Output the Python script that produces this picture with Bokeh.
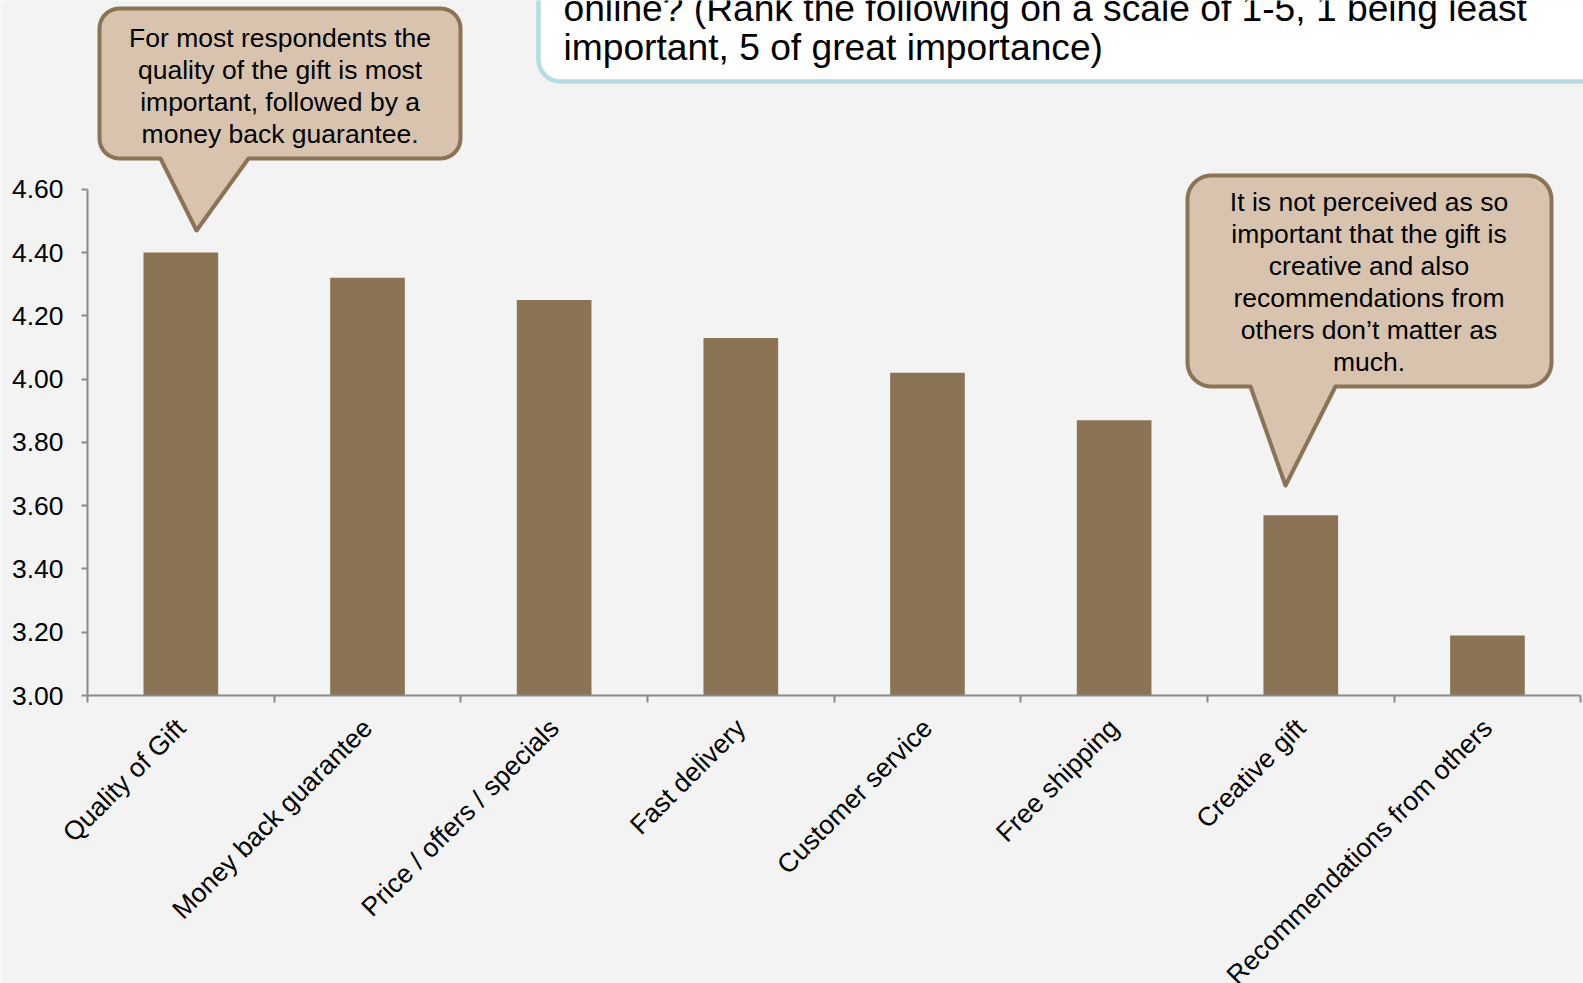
import math
import numpy as np
from bokeh.plotting import figure
from bokeh.models import FixedTicker, NumeralTickFormatter, Range1d, ColumnDataSource
from bokeh.core.properties import value
from bokeh.embed import file_html
from bokeh.resources import INLINE

# ---------------- data ----------------
categories = [
    "Quality of Gift",
    "Money back guarantee",
    "Price / offers / specials",
    "Fast delivery",
    "Customer service",
    "Free shipping",
    "Creative gift",
    "Recommendations from others",
]
scores = [4.40, 4.32, 4.25, 4.13, 4.02, 3.87, 3.57, 3.19]
y_ticks = [3.0, 3.2, 3.4, 3.6, 3.8, 4.0, 4.2, 4.4, 4.6]
title_lines = [
    "online? (Rank the following on a scale of 1-5, 1 being least",
    "important, 5 of great importance)",
]
note_left = [
    "For most respondents the",
    "quality of the gift is most",
    "important, followed by a",
    "money back guarantee.",
]
note_right = [
    "It is not perceived as so",
    "important that the gift is",
    "creative and also",
    "recommendations from",
    "others don\u2019t matter as",
    "much.",
]

# ---------------- layout ----------------
W, H = 1583, 983
AXIS_PX = 87           # pixel column of the y axis (category start 0)
AXIS_PY = 695          # pixel row of the x axis (value 3.0)
N = len(categories)
CAT_PX = 186.66
PX_PER_UNIT = 316.4
Y0 = 3.0
Y_TOP_TICK = 4.6

BG = "#f3f3f3"
BAR = "#8b7355"
BUBBLE_FILL = "#d8c4ae"
BUBBLE_LINE = "#8b7355"
TITLE_LINE = "#b5dce0"
AXIS = "#8a8a8a"
FONT = "Liberation Sans"
FS = "26.5px"

x_start = -AXIS_PX / CAT_PX
x_end = (W - AXIS_PX) / CAT_PX
y_start = Y0 - (H - AXIS_PY) / PX_PER_UNIT
y_end = Y0 + AXIS_PY / PX_PER_UNIT


def dx(px):
    return (px - AXIS_PX) / CAT_PX


def dy(py):
    return Y0 + (AXIS_PY - py) / PX_PER_UNIT


def bubble(l, t, r, b, rad, tail=None):
    pts = []

    def arc(cx, cy, a0, a1):
        for a in np.linspace(a0, a1, 12):
            pts.append((cx + rad * math.cos(a), cy + rad * math.sin(a)))

    arc(l + rad, t + rad, math.pi, 1.5 * math.pi)
    arc(r - rad, t + rad, 1.5 * math.pi, 2 * math.pi)
    arc(r - rad, b - rad, 0, 0.5 * math.pi)
    if tail is not None:
        bl, br, tx, ty = tail
        pts.append((br, b))
        pts.append((tx, ty))
        pts.append((bl, b))
    arc(l + rad, b - rad, 0.5 * math.pi, math.pi)
    xs = [dx(p[0]) for p in pts]
    ys = [dy(p[1]) for p in pts]
    return xs, ys


p = figure(
    width=W,
    height=H,
    x_range=Range1d(x_start, x_end),
    y_range=Range1d(y_start, y_end),
    output_backend="svg",
    toolbar_location=None,
    min_border_left=0,
    min_border_right=0,
    min_border_top=0,
    min_border_bottom=0,
    background_fill_color=BG,
    border_fill_color=BG,
    outline_line_color=None,
)
p.grid.visible = False

# bars
centers = [i + 0.5 for i in range(N)]
src = ColumnDataSource(dict(x=centers, top=scores, cat=categories))
p.vbar(x="x", top="top", bottom=Y0, width=0.4, source=src,
       fill_color=BAR, line_color=None)

# title box (clipped at top like the reference)
txs, tys = bubble(538, -60, 1640, 81, 22)
p.patch(txs, tys, fill_color="white", line_color=TITLE_LINE, line_width=4.5)
p.text(x=[dx(563)] * 2, y=[dy(7), dy(46.5)], text=title_lines,
       text_align="left", text_baseline="middle", text_font=value(FONT),
       text_font_size="37.2px", text_color="black")

# callout 1
bxs, bys = bubble(99, 8, 460, 158, 20, tail=(160, 248, 196, 230))
p.patch(bxs, bys, fill_color=BUBBLE_FILL, line_color=BUBBLE_LINE, line_width=4,
        line_join="round")
p.text(x=[dx(279.6)] * len(note_left),
       y=[dy(37.4 + 32 * i) for i in range(len(note_left))],
       text=note_left, text_align="center", text_baseline="middle",
       text_font=value(FONT), text_font_size=FS, text_color="black")

# callout 2
cxs, cys = bubble(1187, 175, 1551, 386, 24, tail=(1250, 1335, 1285, 485))
p.patch(cxs, cys, fill_color=BUBBLE_FILL, line_color=BUBBLE_LINE, line_width=4,
        line_join="round")
p.text(x=[dx(1368.5)] * len(note_right),
       y=[dy(201 + 32.1 * i) for i in range(len(note_right))],
       text=note_right, text_align="center", text_baseline="middle",
       text_font=value(FONT), text_font_size=FS, text_color="black")

# x axis at value 3.0: labels at category centres, tick marks at boundaries
xa = p.xaxis[0]
xa.fixed_location = Y0
xa.ticker = FixedTicker(ticks=centers, minor_ticks=list(range(N + 1)))
xa.major_label_overrides = {c: name for c, name in zip(centers, categories)}
xa.major_label_orientation = math.pi / 4
xa.bounds = (0, N)
xa.major_tick_in = 0
xa.major_tick_out = 0
xa.major_label_standoff = 21
xa.major_label_text_font = FONT
xa.major_label_text_font_size = FS
xa.major_label_text_color = "black"
xa.minor_tick_in = 0
xa.minor_tick_out = 7
xa.minor_tick_line_color = AXIS
xa.minor_tick_line_width = 2
xa.axis_line_color = AXIS
xa.axis_line_width = 2

# y axis at category start
ya = p.yaxis[0]
ya.fixed_location = 0
ya.ticker = FixedTicker(ticks=y_ticks)
ya.formatter = NumeralTickFormatter(format="0.00")
ya.bounds = (Y0, Y_TOP_TICK)
ya.major_tick_in = 0
ya.major_tick_out = 6
ya.minor_tick_in = 0
ya.minor_tick_out = 0
ya.major_tick_line_color = AXIS
ya.major_tick_line_width = 2
ya.axis_line_color = AXIS
ya.axis_line_width = 2
ya.major_label_standoff = 18
ya.major_label_text_font = FONT
ya.major_label_text_font_size = FS
ya.major_label_text_color = "black"

open("out.html", "w").write(file_html(p, INLINE))
